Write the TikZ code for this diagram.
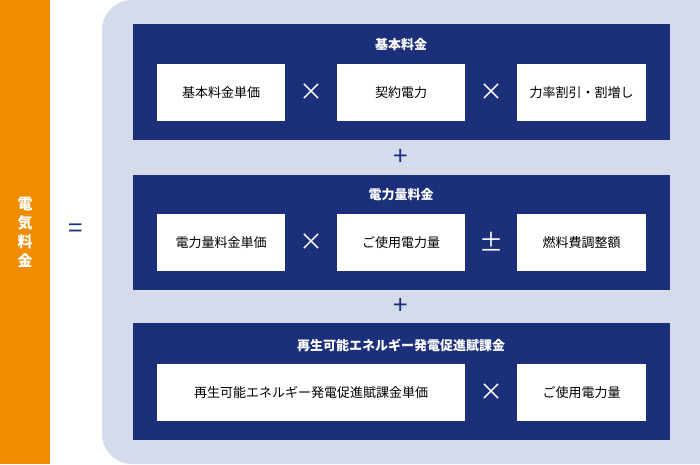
\documentclass[tikz,border=0pt]{standalone}
\usepackage{fontspec}
\setmainfont{Noto Sans CJK JP}
\definecolor{orng}{HTML}{F08C00}
\definecolor{pale}{HTML}{D6DBEC}
\definecolor{navy}{HTML}{1B2F7A}
\tikzset{
 band/.style={fill=navy,draw=none},
 wbox/.style={fill=white,draw=none,minimum height=57pt,font=\fontsize{13}{15}\selectfont,text=black},
 ttl/.style={text=white,font=\fontsize{13}{15}\selectfont\bfseries},
 op/.style={text=white,font=\fontsize{24}{24}\selectfont},
 plus/.style={text=navy,font=\fontsize{26}{26}\selectfont}
}
\begin{document}
\begin{tikzpicture}[x=1pt,y=-1pt]
\useasboundingbox (0,0) rectangle (700,464);
\fill[white] (0,0) rectangle (700,464);
\fill[orng] (0,0) rectangle (50,464);
\node[text=white,font=\fontsize{15}{19}\selectfont\bfseries,align=center] (lbl) at (25,232) {電\\気\\料\\金};
\node[text=navy,font=\fontsize{26}{26}\selectfont] (eq) at (76,231) {=};
\fill[pale,rounded corners=30pt] (102,0) rectangle (730,464);
\fill[pale] (600,0) rectangle (700,464);
% band 1
\fill[band] (133,24) rectangle (670,140);
\node[ttl] (t1) at (401,45) {基本料金};
\node[wbox,minimum width=128pt] (a1) at (221,92.5) {基本料金単価};
\node[wbox,minimum width=128pt] (a2) at (401,92.5) {契約電力};
\node[wbox,minimum width=129pt] (a3) at (581.5,92.5) {力率割引・割増し};
\node[op] (x1) at (311,92) {×};
\node[op] (x2) at (491,92) {×};
\node[plus] (p1) at (401,157) {+};
% band 2
\fill[band] (133,175) rectangle (670,290);
\node[ttl] (t2) at (401,195) {電力量料金};
\node[wbox,minimum width=128pt] (b1) at (221,242.5) {電力量料金単価};
\node[wbox,minimum width=128pt] (b2) at (401,242.5) {ご使用電力量};
\node[wbox,minimum width=129pt] (b3) at (581.5,242.5) {燃料費調整額};
\node[op] (x3) at (311,242) {×};
\node[op] (pm) at (491,242) {±};
\node[plus] (p2) at (401,306) {+};
% band 3
\fill[band] (133,323) rectangle (670,440);
\node[ttl] (t3) at (401,345) {再生可能エネルギー発電促進賦課金};
\node[wbox,minimum width=308pt] (c1) at (311,392.5) {再生可能エネルギー発電促進賦課金単価};
\node[wbox,minimum width=129pt] (c2) at (581.5,392.5) {ご使用電力量};
\node[op] (x4) at (491,392) {×};
\end{tikzpicture}
\end{document}
